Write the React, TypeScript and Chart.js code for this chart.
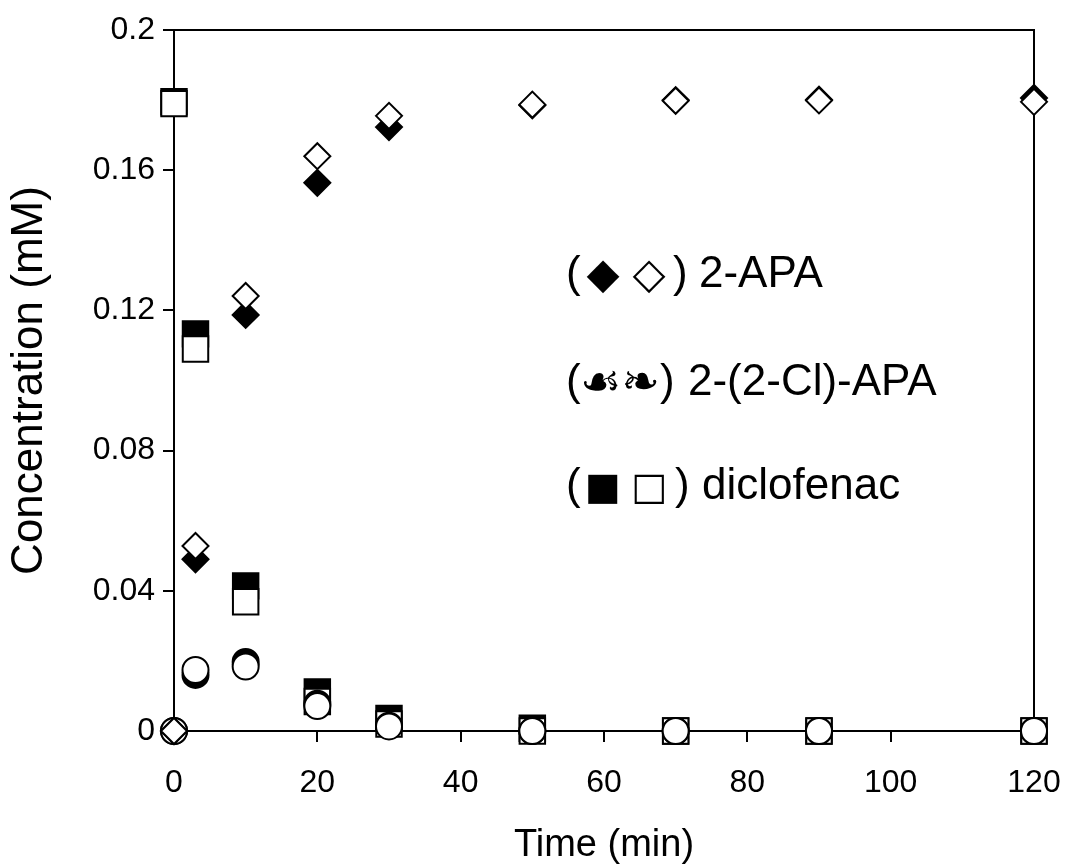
import React, { useEffect, useRef } from "react";
import { Chart, registerables } from "chart.js";

Chart.register(...registerables);

const times = [0, 3, 10, 20, 30, 50, 70, 90, 120];
const apaFilled = [0, 0.049, 0.1187, 0.1564, 0.1723, 0.1785, 0.18, 0.1801, 0.1806];
const apaOpen = [0, 0.0528, 0.1241, 0.164, 0.1755, 0.1787, 0.1798, 0.1799, 0.1795];
const clFilled = [0, 0.016, 0.0197, 0.0078, 0.0015, 0, 0, 0, 0];
const clOpen = [0, 0.0174, 0.0184, 0.0071, 0.0013, 0, 0, 0, 0];
const dcfFilled = [0.1795, 0.1133, 0.0414, 0.0111, 0.0036, 0.0008, 0, 0, 0];
const dcfOpen = [0.179, 0.109, 0.0369, 0.0084, 0.002, 0, 0, 0, 0];

const legendNames = ["2-APA", "2-(2-Cl)-APA", "diclofenac"];
const legendSymbols = [["◆", "◇"], ["☙❧"], ["■", "□"]];
const xTitle = "Time (min)";
const yTitle = "Concentration (mM)";

const FONT = "'Liberation Sans', Arial, Helvetica, sans-serif";
const SYM_FONT = "'DejaVu Sans', 'Liberation Sans', sans-serif";

function pts(ys: number[]) {
  return times.map((t, i) => ({ x: t, y: ys[i] }));
}

const framePlugin = {
  id: "frame",
  beforeDatasetsDraw(chart: any) {
    const { ctx, chartArea } = chart;
    ctx.save();
    ctx.strokeStyle = "#000";
    ctx.lineWidth = 2;
    ctx.strokeRect(chartArea.left, chartArea.top, chartArea.right - chartArea.left, chartArea.bottom - chartArea.top);
    ctx.restore();
  },
};

const legendPlugin = {
  id: "textLegend",
  afterDraw(chart: any) {
    const { ctx } = chart;
    ctx.save();
    ctx.fillStyle = "#000";
    ctx.textBaseline = "middle";
    const rows = [
      { y: 275, open: 566, syms: [{ x: 603, size: 43 }, { x: 649, size: 43 }], close: 673, text: 699 },
      { y: 383, open: 566, syms: [{ x: 620, size: 46 }], close: 660, text: 688 },
      { y: 487, open: 566, syms: [{ x: 603, size: 38 }, { x: 649, size: 38 }], close: 675, text: 702 },
    ];
    rows.forEach((r, i) => {
      ctx.textAlign = "left";
      ctx.font = `44px ${FONT}`;
      ctx.fillText("(", r.open, r.y);
      ctx.fillText(")", r.close, r.y);
      ctx.fillText(legendNames[i], r.text, r.y);
      ctx.textAlign = "center";
      r.syms.forEach((s, j) => {
        ctx.font = `${s.size}px ${SYM_FONT}`;
        ctx.fillText(legendSymbols[i][j], s.x, r.y + 2);
      });
    });
    ctx.restore();
  },
};

export default function App() {
  const ref = useRef<HTMLCanvasElement | null>(null);
  useEffect(() => {
    if (!ref.current) return;
    const base = { showLine: false, borderColor: "#000", borderWidth: 2, clip: false as any };
    const chart = new Chart(ref.current, {
      type: "scatter",
      data: {
        datasets: [
          { ...base, label: "2-APA open", data: pts(apaOpen), pointStyle: "rectRot", pointRadius: 13, backgroundColor: "#fff" },
          { ...base, label: "2-APA", data: pts(apaFilled), pointStyle: "rectRot", pointRadius: 13, backgroundColor: "#000" },
          { ...base, label: "2-(2-Cl)-APA open", data: pts(clOpen), pointStyle: "circle", pointRadius: 13, backgroundColor: "#fff" },
          { ...base, label: "2-(2-Cl)-APA", data: pts(clFilled), pointStyle: "circle", pointRadius: 13, backgroundColor: "#000" },
          { ...base, label: "diclofenac open", data: pts(dcfOpen), pointStyle: "rect", pointRadius: 18, backgroundColor: "#fff" },
          { ...base, label: "diclofenac", data: pts(dcfFilled), pointStyle: "rect", pointRadius: 18, backgroundColor: "#000" },
        ],
      },
      options: {
        animation: false,
        responsive: false,
        layout: { padding: { top: 30, right: 35, left: 0, bottom: 0 } },
        plugins: { legend: { display: false }, tooltip: { enabled: false } },
        scales: {
          x: {
            type: "linear",
            min: 0,
            max: 120,
            afterFit: (s: any) => { s.height = 136; s.paddingLeft = 0; s.paddingRight = 0; },
            ticks: { stepSize: 20, color: "#000", font: { family: FONT, size: 32 }, padding: 22 },
            grid: { drawOnChartArea: false, drawTicks: true, tickLength: 11, color: "#000", lineWidth: 2 },
            border: { display: true, color: "#000", width: 2 },
            title: { display: true, text: xTitle, color: "#000", font: { family: FONT, size: 38, lineHeight: 1 }, padding: { top: 1, bottom: 2 } },
          },
          y: {
            type: "linear",
            min: 0,
            max: 0.2,
            afterFit: (s: any) => { s.width = 174; s.paddingTop = 0; s.paddingBottom = 0; },
            ticks: {
              stepSize: 0.04,
              color: "#000",
              font: { family: FONT, size: 32 },
              padding: 8,
              callback: (v: any) => String(parseFloat(Number(v).toFixed(2))),
            },
            grid: { drawOnChartArea: false, drawTicks: true, tickLength: 11, color: "#000", lineWidth: 2 },
            border: { display: true, color: "#000", width: 2 },
            title: { display: true, text: yTitle, color: "#000", font: { family: FONT, size: 44, lineHeight: 1 }, padding: { top: 8, bottom: 4 } },
          },
        },
      },
      plugins: [framePlugin, legendPlugin],
    });
    return () => chart.destroy();
  }, []);
  return (
    <div style={{ position: "fixed", left: 0, top: 0, width: 1069, height: 867, background: "#fff" }}>
      <canvas ref={ref} width={1069} height={867} style={{ display: "block" }} />
    </div>
  );
}
